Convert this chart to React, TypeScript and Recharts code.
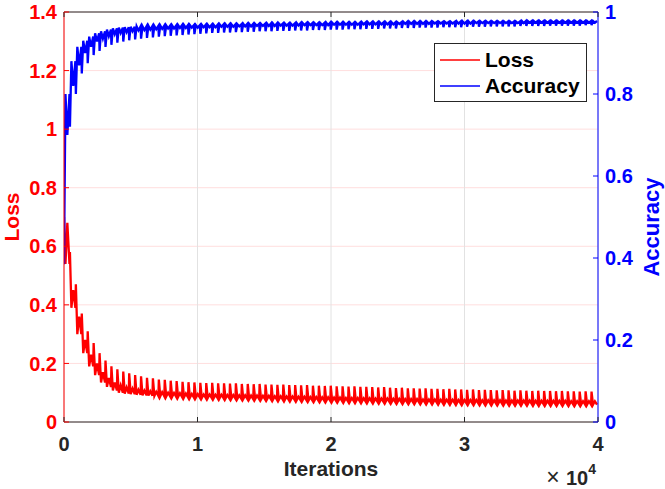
import React from "react";
import {
  CartesianGrid,
  Label,
  Legend,
  Line,
  LineChart,
  XAxis,
  YAxis,
} from "recharts";

// iterations per epoch; one spike per epoch
const EPOCH_ITERS = 444;

const X_TICKS = [0, 10000, 20000, 30000, 40000];
const X_TICK_LABELS = ["0", "1", "2", "3", "4"];
const LOSS_TICKS = [0, 0.2, 0.4, 0.6, 0.8, 1, 1.2, 1.4];
const ACC_TICKS = [0, 0.2, 0.4, 0.6, 0.8, 1];

// loss at the start-of-epoch spike
const LOSS_PEAK = [
  0.7, 0.58, 0.47, 0.37, 0.31, 0.27, 0.235, 0.21, 0.19, 0.18,
  0.172, 0.166, 0.16, 0.156, 0.151, 0.149, 0.145, 0.144, 0.141, 0.14,
  0.137, 0.136, 0.135, 0.134, 0.133, 0.134, 0.132, 0.132, 0.131, 0.132,
  0.13, 0.13, 0.129, 0.13, 0.128, 0.128, 0.127, 0.128, 0.126, 0.126,
  0.125, 0.126, 0.124, 0.124, 0.123, 0.124, 0.122, 0.122, 0.121, 0.122,
  0.12, 0.12, 0.119, 0.118, 0.119, 0.117, 0.116, 0.117, 0.115, 0.115,
  0.114, 0.115, 0.113, 0.113, 0.112, 0.113, 0.111, 0.111, 0.11, 0.111,
  0.109, 0.11, 0.109, 0.108, 0.109, 0.108, 0.107, 0.108, 0.107, 0.106,
  0.107, 0.106, 0.106, 0.105, 0.106, 0.105, 0.105, 0.104, 0.105, 0.104,
];

// loss in the settled part of each epoch
const LOSS_LOW = [
  0.54, 0.39, 0.3, 0.235, 0.19, 0.16, 0.135, 0.12, 0.108, 0.1,
  0.097, 0.095, 0.093, 0.091, 0.09, 0.089, 0.088, 0.087, 0.086, 0.085,
  0.084, 0.083, 0.083, 0.082, 0.082, 0.081, 0.081, 0.08, 0.08, 0.079,
  0.079, 0.078, 0.078, 0.077, 0.077, 0.076, 0.076, 0.075, 0.075, 0.074,
  0.074, 0.073, 0.073, 0.072, 0.072, 0.071, 0.071, 0.07, 0.07, 0.07,
  0.069, 0.069, 0.068, 0.068, 0.068, 0.067, 0.067, 0.066, 0.066, 0.066,
  0.065, 0.065, 0.065, 0.064, 0.064, 0.064, 0.063, 0.063, 0.063, 0.063,
  0.062, 0.062, 0.062, 0.062, 0.061, 0.061, 0.061, 0.061, 0.061, 0.06,
  0.06, 0.06, 0.06, 0.06, 0.06, 0.059, 0.059, 0.059, 0.059, 0.059,
];

// small noise bump in the middle of each epoch
const LOSS_MID = [
  0.68, 0.45, 0.36, 0.28, 0.23, 0.2, 0.17, 0.15, 0.135, 0.125,
  0.118, 0.114, 0.11, 0.107, 0.105, 0.103, 0.102, 0.1, 0.099, 0.098,
  0.097, 0.096, 0.095, 0.094, 0.094, 0.093, 0.093, 0.092, 0.092, 0.091,
  0.091, 0.09, 0.09, 0.089, 0.089, 0.088, 0.088, 0.087, 0.087, 0.086,
  0.086, 0.085, 0.085, 0.084, 0.084, 0.083, 0.083, 0.082, 0.082, 0.082,
  0.081, 0.081, 0.08, 0.08, 0.08, 0.079, 0.079, 0.078, 0.078, 0.078,
  0.077, 0.077, 0.077, 0.076, 0.076, 0.076, 0.075, 0.075, 0.075, 0.075,
  0.074, 0.074, 0.074, 0.074, 0.073, 0.073, 0.073, 0.073, 0.073, 0.072,
  0.072, 0.072, 0.072, 0.072, 0.072, 0.071, 0.071, 0.071, 0.071, 0.071,
];

// accuracy at the start-of-epoch dip
const ACC_DIP = [
  0.385, 0.72, 0.8, 0.85, 0.875, 0.895, 0.905, 0.915, 0.92, 0.925,
  0.928, 0.931, 0.933, 0.935, 0.937, 0.938, 0.94, 0.941, 0.942, 0.943,
  0.944, 0.945, 0.946, 0.947, 0.948, 0.949, 0.949, 0.95, 0.95, 0.951,
  0.951, 0.952, 0.952, 0.953, 0.953, 0.953, 0.954, 0.954, 0.954, 0.955,
  0.955, 0.955, 0.956, 0.956, 0.956, 0.957, 0.957, 0.957, 0.958, 0.958,
  0.958, 0.959, 0.959, 0.959, 0.96, 0.96, 0.96, 0.961, 0.961, 0.961,
  0.962, 0.962, 0.962, 0.962, 0.963, 0.963, 0.963, 0.963, 0.964, 0.964,
  0.964, 0.964, 0.965, 0.965, 0.965, 0.965, 0.965, 0.966, 0.966, 0.966,
  0.966, 0.966, 0.967, 0.967, 0.967, 0.967, 0.967, 0.967, 0.968, 0.968,
];

// accuracy in the recovered part of each epoch
const ACC_HIGH = [
  0.8, 0.88, 0.915, 0.93, 0.94, 0.948, 0.953, 0.957, 0.96, 0.962,
  0.963, 0.964, 0.965, 0.965, 0.966, 0.966, 0.967, 0.967, 0.967, 0.968,
  0.968, 0.968, 0.968, 0.969, 0.969, 0.969, 0.97, 0.97, 0.97, 0.97,
  0.971, 0.971, 0.971, 0.971, 0.972, 0.972, 0.972, 0.972, 0.972, 0.973,
  0.973, 0.973, 0.973, 0.973, 0.974, 0.974, 0.974, 0.974, 0.974, 0.974,
  0.975, 0.975, 0.975, 0.975, 0.975, 0.975, 0.975, 0.976, 0.976, 0.976,
  0.976, 0.976, 0.976, 0.976, 0.976, 0.976, 0.977, 0.977, 0.977, 0.977,
  0.977, 0.977, 0.977, 0.977, 0.977, 0.977, 0.977, 0.978, 0.978, 0.978,
  0.978, 0.978, 0.978, 0.978, 0.978, 0.978, 0.978, 0.978, 0.978, 0.978,
];

// small noise dip in the middle of each epoch
const ACC_MID = [
  0.7, 0.82, 0.87, 0.9, 0.915, 0.928, 0.935, 0.941, 0.946, 0.949,
  0.951, 0.953, 0.955, 0.956, 0.957, 0.958, 0.959, 0.96, 0.96, 0.961,
  0.961, 0.962, 0.962, 0.963, 0.963, 0.963, 0.964, 0.964, 0.964, 0.965,
  0.965, 0.965, 0.966, 0.966, 0.966, 0.966, 0.967, 0.967, 0.967, 0.967,
  0.968, 0.968, 0.968, 0.968, 0.968, 0.969, 0.969, 0.969, 0.969, 0.969,
  0.97, 0.97, 0.97, 0.97, 0.97, 0.97, 0.971, 0.971, 0.971, 0.971,
  0.971, 0.971, 0.972, 0.972, 0.972, 0.972, 0.972, 0.972, 0.972, 0.973,
  0.973, 0.973, 0.973, 0.973, 0.973, 0.973, 0.973, 0.973, 0.974, 0.974,
  0.974, 0.974, 0.974, 0.974, 0.974, 0.974, 0.974, 0.974, 0.974, 0.974,
];

const FONT = "'Liberation Sans', Arial, Helvetica, sans-serif";
const INK = "#262626";
const RED = "#ff0000";
const BLUE = "#0000ff";

const data = LOSS_PEAK.flatMap((peak, i) => {
  const start = i * EPOCH_ITERS;
  return [
    { iter: start, loss: peak, acc: ACC_DIP[i] },
    { iter: start + 110, loss: LOSS_LOW[i], acc: ACC_HIGH[i] },
    { iter: start + 250, loss: LOSS_MID[i], acc: ACC_MID[i] },
    { iter: start + 410, loss: LOSS_LOW[i], acc: ACC_HIGH[i] },
  ];
});

const BottomTick = (props: any) => {
  const { x, y, payload } = props;
  const idx = X_TICKS.indexOf(payload.value);
  return (
    <g>
      <line x1={x} x2={x} y1={y} y2={y - 5} stroke={INK} />
      <text
        x={x}
        y={y + 29}
        textAnchor="middle"
        fill={INK}
        fontSize={20}
        fontWeight="bold"
        fontFamily={FONT}
      >
        {X_TICK_LABELS[idx]}
      </text>
    </g>
  );
};

const TopTick = (props: any) => {
  const { x, y } = props;
  return <line x1={x} x2={x} y1={y} y2={y + 5} stroke={INK} />;
};

const LeftTick = (props: any) => {
  const { x, y, payload } = props;
  return (
    <g>
      <line x1={x} x2={x + 5} y1={y} y2={y} stroke={RED} />
      <text
        x={x - 7}
        y={y}
        dy="0.36em"
        textAnchor="end"
        fill={RED}
        fontSize={20}
        fontWeight="bold"
        fontFamily={FONT}
      >
        {String(payload.value)}
      </text>
    </g>
  );
};

const RightTick = (props: any) => {
  const { x, y, payload } = props;
  return (
    <g>
      <line x1={x} x2={x - 5} y1={y} y2={y} stroke={BLUE} />
      <text
        x={x + 7}
        y={y}
        dy="0.36em"
        textAnchor="start"
        fill={BLUE}
        fontSize={20}
        fontWeight="bold"
        fontFamily={FONT}
      >
        {String(payload.value)}
      </text>
    </g>
  );
};

const XLabels = (props: any) => {
  const { x, y, width } = props.viewBox;
  return (
    <g fontFamily={FONT} fill={INK}>
      <text x={x + width / 2} y={y + 54} textAnchor="middle" fontSize={21} fontWeight="bold">
        Iterations
      </text>
      <text x={x + width - 2} y={y + 63} textAnchor="end" fontSize={20} fontWeight="bold">
        <tspan fontWeight="normal" fontSize={23}>× </tspan>
        <tspan>10</tspan>
        <tspan dy={-11} fontSize={14}>
          4
        </tspan>
      </text>
    </g>
  );
};

const sideLabel =
  (text: string, color: string, dx: number, size: number, shift: number) =>
  (props: any) => {
    const { x, y, height } = props.viewBox;
    const cx = x + dx;
    const cy = y + height / 2 + shift;
    return (
      <text
        x={cx}
        y={cy}
        dy="0.36em"
        textAnchor="middle"
        transform={`rotate(-90 ${cx} ${cy})`}
        fill={color}
        fontSize={size}
        fontWeight="bold"
        fontFamily={FONT}
      >
        {text}
      </text>
    );
  };

const LegendBox = () => (
  <svg width={154} height={60} style={{ display: "block" }}>
    <rect x={0.5} y={0.5} width={152} height={58} fill="#fff" stroke={INK} />
    <line x1={6} x2={46} y1={17} y2={17} stroke={RED} strokeWidth={1.5} />
    <line x1={6} x2={46} y1={43} y2={43} stroke={BLUE} strokeWidth={1.5} />
    <g fontFamily={FONT} fontSize={21} fontWeight="bold" fill="#000">
      <text x={51} y={24}>
        Loss
      </text>
      <text x={51} y={50}>
        Accuracy
      </text>
    </g>
  </svg>
);

export default function App() {
  return (
    <div style={{ position: "absolute", left: 0, top: 0, background: "#fff" }}>
      <LineChart
        width={665}
        height={489}
        data={data}
        margin={{ top: 0, right: 0, bottom: 0, left: 0 }}
      >
        <CartesianGrid
          xAxisId="bottom"
          yAxisId="loss"
          vertical={false}
          stroke="#ffdede"
        />
        <CartesianGrid
          xAxisId="bottom"
          yAxisId="loss"
          horizontal={false}
          stroke="#e2e2e2"
        />
        <XAxis
          xAxisId="bottom"
          dataKey="iter"
          type="number"
          domain={[0, 40000]}
          ticks={X_TICKS}
          interval={0}
          height={67}
          axisLine={{ stroke: INK }}
          tickLine={false}
          tickSize={0}
          tickMargin={0}
          tick={BottomTick}
          allowDataOverflow
        >
          <Label content={XLabels} />
        </XAxis>
        <XAxis
          xAxisId="top"
          orientation="top"
          dataKey="iter"
          type="number"
          domain={[0, 40000]}
          ticks={X_TICKS}
          interval={0}
          height={12}
          axisLine={{ stroke: INK }}
          tickLine={false}
          tickSize={0}
          tickMargin={0}
          tick={TopTick}
          allowDataOverflow
        />
        <YAxis
          yAxisId="loss"
          orientation="left"
          domain={[0, 1.4]}
          ticks={LOSS_TICKS}
          interval={0}
          width={64}
          axisLine={{ stroke: RED }}
          tickLine={false}
          tickSize={0}
          tickMargin={0}
          tick={LeftTick}
          allowDataOverflow
        >
          <Label content={sideLabel("Loss", RED, 11, 21, 0)} />
        </YAxis>
        <YAxis
          yAxisId="acc"
          orientation="right"
          domain={[0, 1]}
          ticks={ACC_TICKS}
          interval={0}
          width={67}
          axisLine={{ stroke: BLUE }}
          tickLine={false}
          tickSize={0}
          tickMargin={0}
          tick={RightTick}
          allowDataOverflow
        >
          <Label content={sideLabel("Accuracy", BLUE, 53, 22, 10)} />
        </YAxis>
        <Line
          xAxisId="bottom"
          yAxisId="loss"
          type="linear"
          dataKey="loss"
          stroke={RED}
          strokeWidth={2.3}
          dot={false}
          isAnimationActive={false}
        />
        <Line
          xAxisId="bottom"
          yAxisId="acc"
          type="linear"
          dataKey="acc"
          stroke={BLUE}
          strokeWidth={2.3}
          dot={false}
          isAnimationActive={false}
        />
        <Legend
          layout="vertical"
          align="center"
          verticalAlign="middle"
          content={LegendBox}
          wrapperStyle={{ left: 434, top: 43, width: 154, height: 60 }}
        />
      </LineChart>
    </div>
  );
}
